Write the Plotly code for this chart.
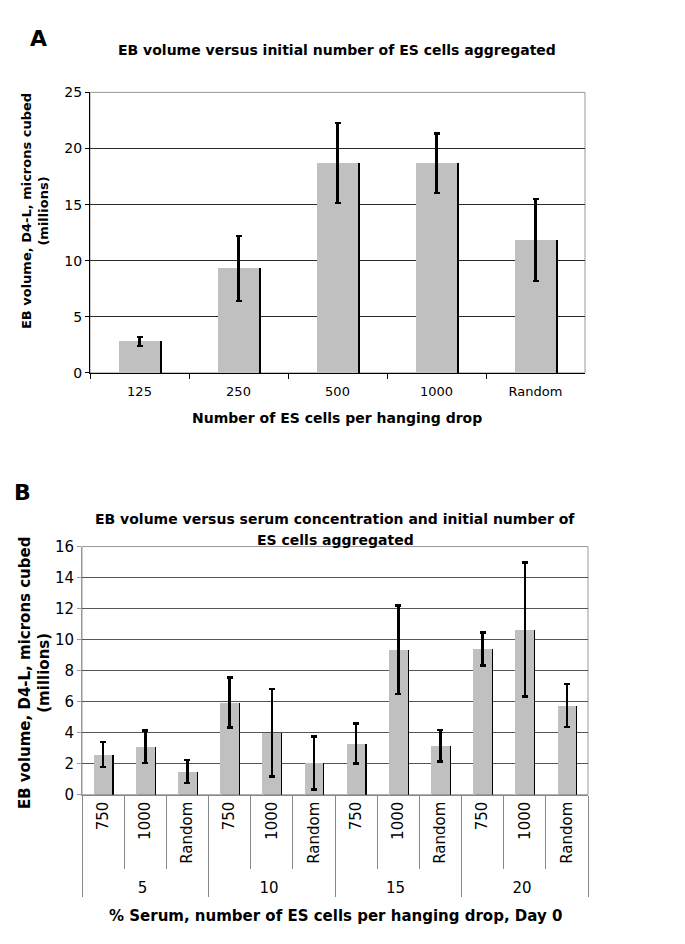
import plotly.graph_objects as go

# ---- Panel A data ----
a_categories = ["125", "250", "500", "1000", "Random"]
a_values = [2.8, 9.3, 18.7, 18.7, 11.85]
a_errors = [0.4, 2.9, 3.55, 2.65, 3.65]
a_yticks = [0, 5, 10, 15, 20, 25]

# ---- Panel B data ----
b_serum = ["5", "5", "5", "10", "10", "10", "15", "15", "15", "20", "20", "20"]
b_cells = ["750", "1000", "Random"] * 4
b_values = [2.6, 3.1, 1.5, 5.95, 4.0, 2.05, 3.3, 9.35, 3.15, 9.4, 10.65, 5.75]
b_errors = [0.8, 1.05, 0.74, 1.6, 2.82, 1.7, 1.28, 2.86, 1.02, 1.06, 4.33, 1.39]
b_yticks = [0, 2, 4, 6, 8, 10, 12, 14, 16]

W, H = 685, 944
FONT = "DejaVu Sans, Verdana, sans-serif"
BAR = "#c0c0c0"

def px(x):
    return x / W

def py(y):
    return 1 - y / H

fig = go.Figure()

# Panel A: dark right-edge strip behind, then grey bars with error bars
fig.add_trace(go.Bar(x=a_categories, y=a_values, width=0.42, offset=-0.195,
                     marker=dict(color="black", line=dict(width=0)),
                     xaxis="x", yaxis="y", showlegend=False, hoverinfo="skip"))
fig.add_trace(go.Bar(x=a_categories, y=a_values, width=0.42,
                     marker=dict(color=BAR, line=dict(width=0)),
                     error_y=dict(type="data", array=a_errors, color="black",
                                  thickness=2.5, width=3),
                     xaxis="x", yaxis="y", showlegend=False))

# Panel B
fig.add_trace(go.Bar(x=[b_serum, b_cells], y=b_values, width=0.44, offset=-0.19,
                     marker=dict(color="black", line=dict(width=0)),
                     xaxis="x2", yaxis="y2", showlegend=False, hoverinfo="skip"))
fig.add_trace(go.Bar(x=[b_serum, b_cells], y=b_values, width=0.44,
                     marker=dict(color=BAR, line=dict(width=0)),
                     error_y=dict(type="data", array=b_errors, color="black",
                                  thickness=2.5, width=3),
                     xaxis="x2", yaxis="y2", showlegend=False))
# invisible helper on an overlay axis, only used to draw inner category separators
fig.add_trace(go.Bar(x=[b_serum, b_cells], y=b_values, width=0.44,
                     marker=dict(color="rgba(0,0,0,0)", line=dict(width=0)),
                     xaxis="x3", yaxis="y2", showlegend=False, hoverinfo="skip"))

fig.update_layout(
    width=W, height=H, autosize=False,
    margin=dict(l=0, r=0, t=0, b=0),
    paper_bgcolor="white", plot_bgcolor="white",
    barmode="overlay", bargap=0,
    font=dict(family=FONT, color="black", size=12),
    xaxis=dict(domain=[px(90), px(585)], anchor="y", type="category",
               showline=True, linecolor="black", linewidth=1,
               ticks="outside", tickson="boundaries", ticklen=5,
               tickcolor="black", tickfont=dict(size=13, family=FONT),
               ticklabelstandoff=6,
               showgrid=False, fixedrange=True),
    yaxis=dict(domain=[py(371), py(85)], anchor="x", range=[0, 25],
               tickvals=a_yticks, showline=True, linecolor="black", linewidth=1,
               ticks="outside", ticklen=4, tickcolor="black",
               tickfont=dict(size=14, family=FONT),
               showgrid=True, gridcolor="#2a2a2a", gridwidth=1,
               zeroline=False, fixedrange=True),
    xaxis2=dict(domain=[px(82), px(588)], anchor="y2", type="multicategory",
                showline=True, linecolor="#888888", linewidth=1,
                ticks="", tickangle=-90,
                tickfont=dict(size=15, family=FONT),
                showdividers=True, dividercolor="#888888", dividerwidth=1,
                showgrid=False, fixedrange=True),
    xaxis3=dict(overlaying="x2", anchor="y2", type="multicategory",
                showline=False, showticklabels=False,
                ticks="outside", tickson="boundaries", ticklen=73,
                tickcolor="#888888", tickwidth=1, showdividers=False,
                showgrid=False, fixedrange=True),
    yaxis2=dict(domain=[py(801), py(548)], anchor="x2", range=[0, 16],
                tickvals=b_yticks, showline=True, linecolor="#999999", linewidth=1,
                ticks="outside", ticklen=4, tickcolor="#999999",
                tickfont=dict(size=15, family=FONT),
                showgrid=True, gridcolor="#555555", gridwidth=1,
                zeroline=False, fixedrange=True),
    shapes=[
        dict(type="rect", xref="x domain", yref="y domain", x0=0, x1=1, y0=0, y1=1,
             line=dict(color="#999999", width=1), layer="below"),
        dict(type="rect", xref="x2 domain", yref="y2 domain", x0=0, x1=1, y0=0, y1=1,
             line=dict(color="#999999", width=1), layer="below"),
    ],
)

ann = [
    dict(text="<b>A</b>", x=px(38), y=py(30), font=dict(size=22)),
    dict(text="<b>EB volume versus initial number of ES cells aggregated</b>",
         x=px(337), y=py(42), font=dict(size=14)),
    dict(text="<b>EB volume, D4-L, microns cubed<br>(millions)</b>",
         x=px(35), y=py(206), textangle=-90, font=dict(size=13)),
    dict(text="<b>Number of ES cells per hanging drop</b>",
         x=px(337), y=py(417), font=dict(size=14)),
    dict(text="<b>B</b>", x=px(22), y=py(493), font=dict(size=22)),
    dict(text="<b>EB volume versus serum concentration and initial number of</b>",
         x=px(335), y=py(520), font=dict(size=14)),
    dict(text="<b>ES cells aggregated</b>",
         x=px(335), y=py(541), font=dict(size=14)),
    dict(text="<b>EB volume, D4-L, microns cubed<br>(millions)</b>",
         x=px(35), y=py(677), textangle=-90, font=dict(size=15)),
    dict(text="<b>% Serum, number of ES cells per hanging drop, Day 0</b>",
         x=px(335), y=py(925), font=dict(size=15)),
]
for a in ann:
    a.update(xref="paper", yref="paper", showarrow=False,
             xanchor="center", yanchor="middle")
    a["font"].update(family=FONT, color="black")
fig.update_layout(annotations=ann)

fig.write_html("out.html", config={"displayModeBar": False},
               post_script="document.body.style.margin='0';document.body.style.padding='0';")
